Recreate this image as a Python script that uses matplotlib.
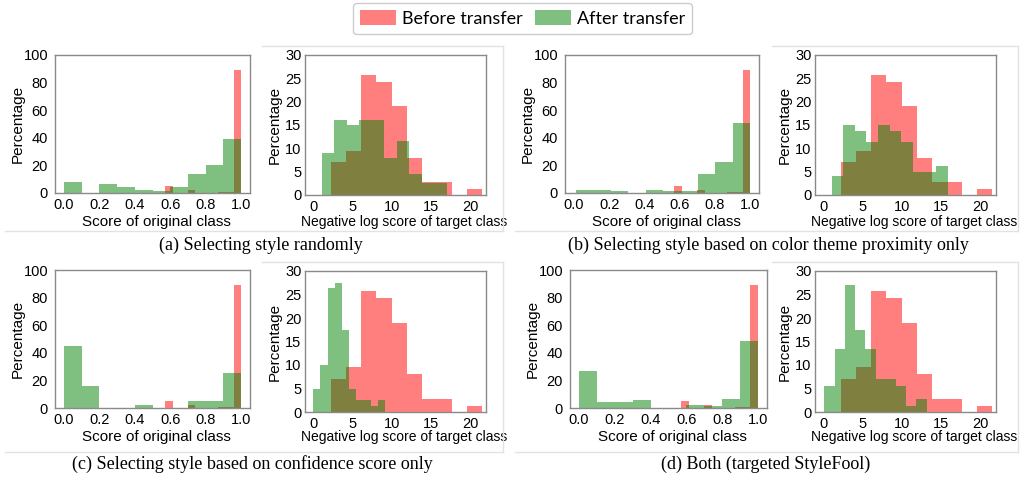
import numpy as np
import matplotlib
matplotlib.use("Agg")
import matplotlib.pyplot as plt
from matplotlib.patches import Patch
from matplotlib.lines import Line2D

# ---- data (percent per bin) ----
# score of original class (left plots)
score_before_range = (0.57, 1.0)
score_before = [5, 0, 0, 2.5, 0, 0, 0, 1, 1, 89]

score_after_ranges = [(0.0, 1.0), (0.013, 1.0), (0.0, 1.0), (0.0, 1.0)]
score_after = [
    [8, 0, 6.5, 4, 2.5, 1.5, 4, 13.5, 20, 39],
    [2.5, 2.5, 1.2, 0, 2.5, 1.2, 1.2, 13.5, 22.5, 51],
    [45, 16, 0, 0, 2.5, 0, 0, 5, 5, 25.5],
    [27, 4, 4, 5.5, 0, 0, 2.5, 1.2, 6.5, 48.5],
]

# negative log score of target class (right plots)
nlog_before_range = (2.3, 21.5)
nlog_before = [7, 9.5, 25.8, 24.3, 19, 8, 2.7, 2.7, 0, 1.3]

nlog_after_ranges = [(1.06, 17.06), (1.06, 15.9), (0.0, 9.15), (0.13, 13.2)]
nlog_after = [
    [9, 16, 15, 16, 16, 8, 11.5, 4.5, 2.5, 2.5],
    [4, 15, 13.7, 11.3, 15, 13.7, 11.3, 5, 5, 6.3],
    [5, 10, 26.3, 27.5, 17.5, 5, 2.5, 2.5, 1.3, 2.5],
    [5.5, 13.5, 27, 17.5, 13.5, 7, 7, 5.5, 1.3, 2.7],
]

captions = [
    "(a) Selecting style randomly",
    "(b) Selecting style based on color theme proximity only",
    "(c) Selecting style based on confidence score only",
    "(d) Both (targeted StyleFool)",
]

# ---- layout (pixels: left, top, right, bottom) ----
W, H = 1023, 483
left_boxes = [(55, 55, 250, 193), (565, 55, 759, 193), (55, 270, 250, 408), (570, 270, 767, 408)]
right_boxes = [(305, 55, 486, 195), (815, 55, 996, 195), (305, 271, 486, 412), (815, 271, 996, 412)]
caption_pos = [(261, 245), (768, 245), (252, 464), (766, 464)]

plt.rcParams['font.family'] = ['Liberation Sans', 'DejaVu Sans']
fig = plt.figure(figsize=(W / 100, H / 100), dpi=100)


def px_axes(box):
    l, t, r, b = box
    return fig.add_axes([l / W, 1 - b / H, (r - l) / W, (b - t) / H])


def style(ax, ypad):
    for s in ax.spines.values():
        s.set_color('#8a8a8a')
        s.set_linewidth(1.0)
    ax.tick_params(axis='both', length=0, labelsize=10.5, colors='#8a8a8a', labelcolor='black')
    ax.tick_params(axis='y', pad=ypad)
    ax.tick_params(axis='x', pad=3.5)


def place_labels(ax, box, xlab_dy, ylab_dx, xlab_dx=0):
    l, t, r, b = box
    w, h = r - l, b - t
    ax.xaxis.label.set_va('center')
    ax.yaxis.label.set_va('center')
    ax.xaxis.set_label_coords(0.5 + xlab_dx / w, -xlab_dy / h)
    ax.yaxis.set_label_coords(-ylab_dx / w, 0.5)


def draw_hist(ax, vals, rng, **kw):
    edges = np.linspace(rng[0], rng[1], len(vals) + 1)
    ax.stairs(vals, edges, fill=True, linewidth=0, **kw)


# faint frame lines around the right sub-figures
faint = '#e2e2e2'
for y0, y1 in [(46, 231), (262, 452)]:
    for xl, xr in [(5, 503), (515, 1018)]:
        fig.add_artist(Line2D([xl / W, xr / W], [1 - y1 / H, 1 - y1 / H], color=faint, lw=1))
        fig.add_artist(Line2D([(xl + 257) / W, xr / W], [1 - y0 / H, 1 - y0 / H], color=faint, lw=1))
        fig.add_artist(Line2D([xr / W, xr / W], [1 - y0 / H, 1 - y1 / H], color=faint, lw=1))

for i in range(4):
    box = left_boxes[i]
    ax = px_axes(box)
    draw_hist(ax, score_before, score_before_range, color='red', alpha=0.5)
    draw_hist(ax, score_after[i], score_after_ranges[i], color='green', alpha=0.5)
    ax.set_ylim(0, 100)
    ax.set_xlim(-0.05, 1.05)
    ax.set_xticks([0, 0.2, 0.4, 0.6, 0.8, 1.0])
    ax.set_xticklabels(['0.0', '0.2', '0.4', '0.6', '0.8', '1.0'])
    ax.set_yticks([0, 20, 40, 60, 80, 100])
    ax.set_ylabel('Percentage', fontsize=11)
    ax.set_xlabel('Score of original class', fontsize=11)
    style(ax, 5)
    place_labels(ax, box, 29, 37, 4)

    box = right_boxes[i]
    ax = px_axes(box)
    draw_hist(ax, nlog_before, nlog_before_range, color='red', alpha=0.5)
    draw_hist(ax, nlog_after[i], nlog_after_ranges[i], color='green', alpha=0.5)
    ax.set_ylim(0, 30)
    ax.set_xlim(-1.06, 22.04)
    ax.set_xticks([0, 5, 10, 15, 20])
    ax.set_yticks([0, 5, 10, 15, 20, 25, 30])
    ax.set_ylabel('Percentage', fontsize=11)
    ax.set_xlabel('Negative log score of target class', fontsize=10)
    style(ax, 2.5)
    place_labels(ax, box, 27 if i < 2 else 25, 30, 9)

    cx, cy = caption_pos[i]
    fig.text(cx / W, 1 - cy / H, captions[i], ha='center', va='center',
             fontsize=13, family=['Liberation Serif', 'DejaVu Serif'])

handles = [Patch(facecolor='red', alpha=0.5, label='Before transfer'),
           Patch(facecolor='green', alpha=0.5, label='After transfer')]
fig.legend(handles=handles, loc='upper center', bbox_to_anchor=(522.5 / W, 1 - 3 / H),
           ncol=2, frameon=True, fancybox=True, edgecolor='#cccccc', framealpha=1,
           prop={'family': ['Lato', 'DejaVu Sans'], 'size': 13},
           handlelength=2.0, handleheight=0.9, handletextpad=0.3,
           columnspacing=0.7, borderpad=0.4, borderaxespad=0)

fig.savefig('out.png', dpi=100)
